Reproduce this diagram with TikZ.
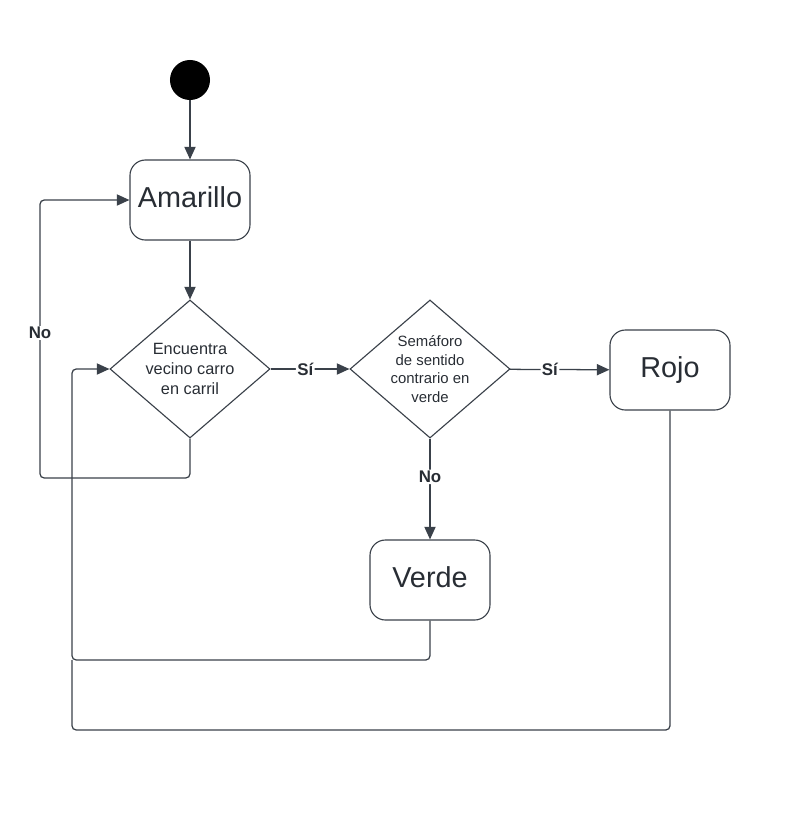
\documentclass[tikz,border=0pt]{standalone}
\usepackage{fontspec}
\setmainfont{Liberation Sans}
\usepackage{xcolor}
\usepackage{tikz}
\usetikzlibrary{
    arrows.meta,
    shapes.geometric
}
\definecolor{lineGray}{RGB}{58, 65, 74}
\definecolor{textGray}{RGB}{40, 45, 52}

\begin{document}
\begin{tikzpicture}[x=0.025cm, y=-0.025cm,
    estado/.style={draw=lineGray, line width=0.8pt, rounded corners=11pt, minimum width=3cm, minimum height=2cm, text height=15pt, text depth=5pt, text=textGray, font=\fontsize{20.5}{24}\selectfont},
    decision/.style={diamond, draw=lineGray, line width=0.8pt, inner sep=-4pt, minimum width=4cm, minimum height=3.45cm, align=center, text=textGray},
    etiqueta/.style={fill=white, inner sep=1pt, text=textGray, font=\fontsize{12}{14}\selectfont\bfseries},
    flecha/.style={draw=lineGray, line width=0.9pt, rounded corners=3pt, -{Triangle[length=9pt, width=8pt]}},
    linea/.style={draw=lineGray, line width=0.9pt, rounded corners=3pt}]
            \useasboundingbox (0,0) rectangle (792,816);
            
            \node[circle, fill=black, minimum size=1cm, inner sep=0pt] (inicio) at (190,80) {};
            \node[estado] (amarillo) at (190,200) {Amarillo};
            \node[decision, font=\fontsize{11.6}{14.2}\selectfont] (vecino) at (190,369) {Encuentra\\vecino carro\\en carril};
            \node[decision, font=\fontsize{10.6}{13.1}\selectfont] (semaforo) at (430,369) {Semáforo\\de sentido\\contrario en\\verde};
            \node[estado] (rojo) at (670,370) {Rojo};
            \node[estado] (verde) at (430,580) {Verde};
            
            \draw[flecha] (inicio) -- (amarillo);
            \draw[flecha] (amarillo) -- (vecino);
            \draw[flecha] (vecino) -- node[etiqueta, pos=0.44] (si1) {Sí} (semaforo);
            \draw[flecha] (semaforo) -- node[etiqueta, pos=0.4] (si2) {Sí} (rojo);
            \draw[flecha] (semaforo) -- node[etiqueta, pos=0.38] (no2) {No} (verde);
            
            % Regreso a Amarillo
            \draw[flecha] (vecino.south) |- (40,478) |- (amarillo.west);
            \node[etiqueta] (no1) at (40,333) {No};
            
            % Regreso a la primera decision
            \draw[flecha] (verde.south) |- (72,660) |- (vecino.west);
            \draw[linea] (rojo.south) |- (72,730) -- (72,660);
\end{tikzpicture}
\end{document}
